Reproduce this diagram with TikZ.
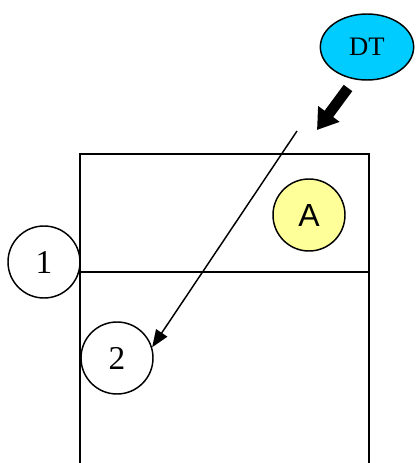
\documentclass[tikz,border=0pt]{standalone}
\usepackage{fontspec}
\setmainfont{Liberation Serif}
\newfontfamily\arialfont{Liberation Sans}
\usetikzlibrary{shapes.geometric,arrows.meta}
\definecolor{dtblue}{RGB}{0,204,255}
\definecolor{ballyellow}{RGB}{255,255,153}
\tikzset{
  player/.style={circle,draw,line width=1.1pt,inner sep=0pt,minimum size=54pt,
    font=\fontsize{25}{27}\selectfont},
  ballmark/.style={player,fill=ballyellow,font=\arialfont\fontsize{24}{26}\selectfont},
  coach/.style={ellipse,draw,line width=1.1pt,fill=dtblue,inner sep=0pt,
    minimum width=70pt,minimum height=49.5pt,font=\fontsize{20}{22}\selectfont}
}
\begin{document}
\begin{tikzpicture}[x=0.75pt,y=-0.75pt]
  \useasboundingbox (0,0) rectangle (415,463);
  % court: open at the bottom, with the middle line
  \draw[line width=1.4pt] (80,463) -- (80,154) -- (369,154) -- (369,463);
  \draw[line width=1.4pt] (80,272) -- (369,272);
  % players, ball and coach
  \node[ballmark] (ball) at (309,215) {A};
  \node[player] (p1) at (44,262) {1};
  \node[player] (p2) at (117,358) {2};
  \node[coach] (dt) at (367,47) {DT};
  % thick arrow from the coach, thin pass to player 2
  \coordinate (dtfrom) at (348,88);
  \coordinate (dtto) at (317,130);
  \coordinate (passfrom) at (297,131);
  \draw[line width=8pt,-{Triangle[length=15pt,width=19pt]}] (dtfrom) -- (dtto);
  \draw[line width=1.1pt,-{Triangle[length=13pt,width=10pt]}] (passfrom) -- (p2.17);
\end{tikzpicture}
\end{document}
